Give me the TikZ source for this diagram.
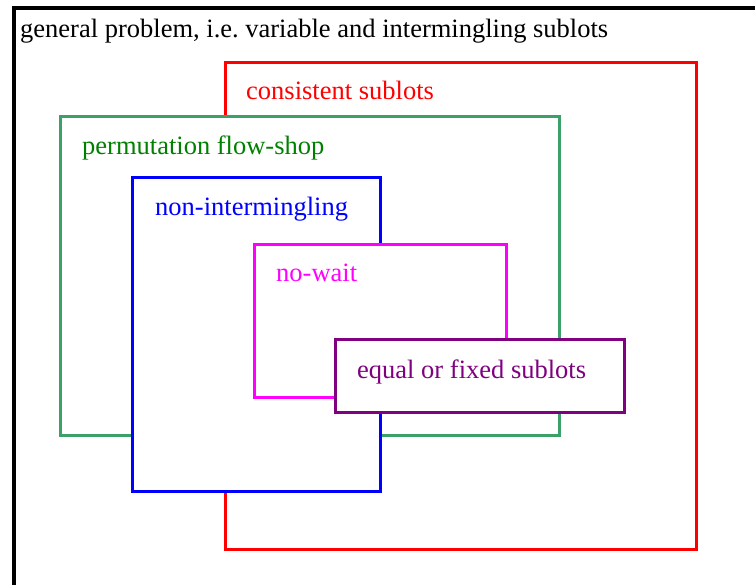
\documentclass[tikz,border=0pt]{standalone}
\usepackage{fontspec}
\setmainfont{Liberation Serif}
\definecolor{bgreen}{RGB}{60,160,105}
\definecolor{tgreen}{RGB}{0,128,0}
\definecolor{mypurple}{RGB}{128,0,128}
\definecolor{mymagenta}{RGB}{255,0,255}
\begin{document}
\begin{tikzpicture}[x=1pt,y=-1pt,
  setbox/.style={fill=white, line width=3pt, line join=miter, inner sep=0pt, outer sep=0pt, anchor=north west},
  lbl/.style={anchor=base west, inner sep=0pt, font=\fontsize{26.5}{30}\selectfont}]
\useasboundingbox (0,0) rectangle (755,585);
\clip (0,0) rectangle (755,585);
\fill[white] (0,0) rectangle (755,585);
\node[setbox, draw=black, line width=4pt, minimum width=1000pt, minimum height=1000pt] (gen) at (14,8) {};
\node[lbl] (tgen) at (20,38) {general problem, i.e.\ variable and intermingling sublots};
\node[setbox, draw=red, minimum width=471pt, minimum height=487pt] (cons) at (225.5,62.5) {};
\node[lbl, text=red] (tcons) at (246,100) {consistent sublots};
\node[setbox, draw=bgreen, minimum width=499pt, minimum height=319pt] (perm) at (60.5,116.5) {};
\node[lbl, text=tgreen] (tperm) at (82,155) {permutation flow-shop};
\node[setbox, draw=blue, minimum width=248pt, minimum height=314pt] (non) at (132.5,177.5) {};
\node[lbl, text=blue] (tnon) at (155,216) {non-intermingling};
\node[setbox, draw=mymagenta, minimum width=252pt, minimum height=153pt] (nw) at (254.5,244.5) {};
\node[lbl, text=mymagenta] (tnw) at (276,282) {no-wait};
\node[setbox, draw=mypurple, minimum width=289pt, minimum height=73pt] (eq) at (335.5,339.5) {};
\node[lbl, text=mypurple] (teq) at (357,378) {equal or fixed sublots};
\end{tikzpicture}
\end{document}
